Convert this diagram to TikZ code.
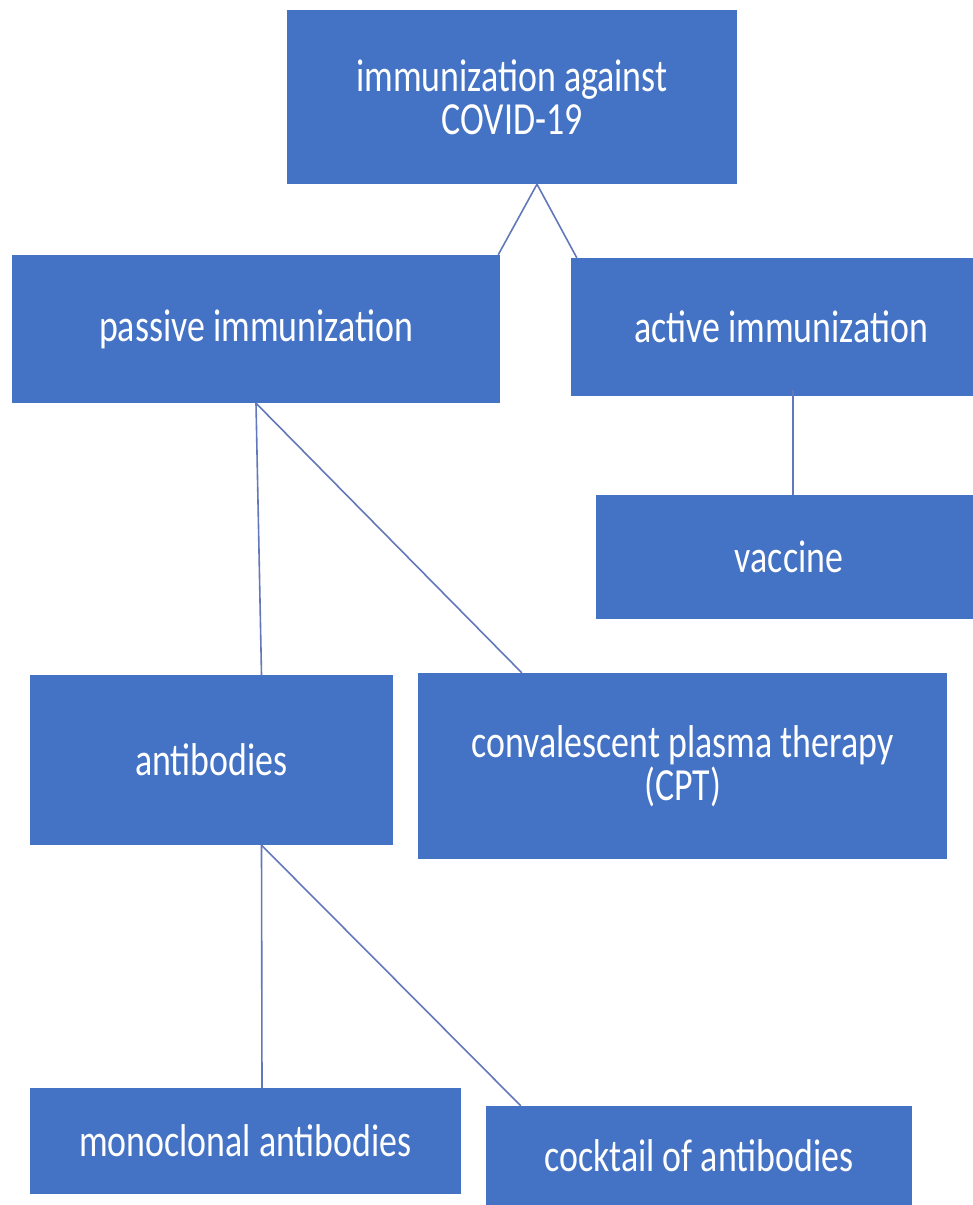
\documentclass[tikz,border=0pt]{standalone}
\usepackage{fontspec}
\newfontfamily\boxfont{Carlito}[FakeStretch=0.78]
\usetikzlibrary{positioning}
\definecolor{boxblue}{RGB}{68,114,196}
\definecolor{linkblue}{RGB}{98,120,186}

\begin{document}
\begin{tikzpicture}[x=1pt,y=-1pt,
    box/.style={rectangle,fill=boxblue,text=white,inner sep=0pt,align=center,
        font=\boxfont\fontsize{46}{43}\selectfont},
    link/.style={draw=linkblue,line width=1.6pt}]
    \useasboundingbox (0,0) rectangle (973,1205);
    % boxes
    \node[box,minimum width=450,minimum height=174] (top) at (512,97) {immunization against\\COVID-19};
    \node[box,minimum width=488,minimum height=148] (passive) at (256,329) {passive immunization};
    \node[box,minimum width=420,minimum height=138] (active) at (781,327) {active immunization};
    \node[box,minimum width=386,minimum height=124] (vaccine) at (789,557) {vaccine};
    \node[box,minimum width=363,minimum height=170] (antibodies) at (211.5,760) {antibodies};
    \node[box,minimum width=529,minimum height=186] (cpt) at (682.5,766) {convalescent plasma therapy\\(CPT)};
    \node[box,minimum width=431,minimum height=106] (mono) at (245.5,1141) {monoclonal antibodies};
    \node[box,minimum width=426,minimum height=100] (cocktail) at (699,1156) {cocktail of antibodies};
    % connectors
    \draw[link] ([xshift=25]top.south) -- ([xshift=-2]passive.north east);
    \draw[link] ([xshift=25]top.south) -- ([xshift=6]active.north west);
    \draw[link] (passive.south) -- ([xshift=50]antibodies.north);
    \draw[link] (passive.south) -- ([xshift=104]cpt.north west);
    \draw[link] ([xshift=12,yshift=6]active.south) -- ([xshift=4]vaccine.north);
    \draw[link] ([xshift=50]antibodies.south) -- ([xshift=16.5]mono.north);
    \draw[link] ([xshift=50]antibodies.south) -- ([xshift=35]cocktail.north west);
\end{tikzpicture}
\end{document}
